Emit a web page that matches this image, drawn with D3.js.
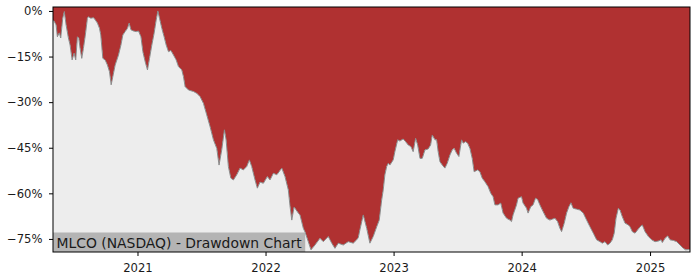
<!DOCTYPE html>
<html>
<head>
<meta charset="utf-8">
<script src="https://cdn.jsdelivr.net/npm/d3@7"></script>
<style>
  html, body { margin: 0; padding: 0; background: #ffffff; }
  svg { display: block; font-family: "DejaVu Sans", sans-serif; }
</style>
</head>
<body>
<svg id="chart" width="700" height="280"></svg>
<script>
// Decimal-year positions of the traced points
const years = [
  2020.342, 2020.350, 2020.366, 2020.376, 2020.391, 2020.402, 2020.418, 2020.430, 2020.444, 2020.462,
  2020.475, 2020.491, 2020.506, 2020.519, 2020.532, 2020.543, 2020.553, 2020.566, 2020.579, 2020.594,
  2020.610, 2020.618, 2020.636, 2020.657, 2020.672, 2020.688, 2020.704, 2020.714, 2020.730, 2020.748,
  2020.766, 2020.782, 2020.795, 2020.808, 2020.826, 2020.852, 2020.871, 2020.886, 2020.904, 2020.922,
  2020.935, 2020.949, 2020.969, 2020.990, 2021.008, 2021.027, 2021.042, 2021.060, 2021.078, 2021.094,
  2021.112, 2021.130, 2021.146, 2021.159, 2021.172, 2021.190, 2021.208, 2021.224, 2021.242, 2021.261,
  2021.281, 2021.302, 2021.320, 2021.346, 2021.359, 2021.372, 2021.398, 2021.437, 2021.463, 2021.489,
  2021.515, 2021.541, 2021.567, 2021.593, 2021.619, 2021.637, 2021.658, 2021.679, 2021.692, 2021.710,
  2021.729, 2021.749, 2021.775, 2021.801, 2021.827, 2021.853, 2021.874, 2021.892, 2021.918, 2021.936,
  2021.957, 2021.983, 2022.014, 2022.035, 2022.061, 2022.088, 2022.127, 2022.152, 2022.178, 2022.191,
  2022.205, 2022.223, 2022.256, 2022.269, 2022.295, 2022.308, 2022.334, 2022.355, 2022.386, 2022.425,
  2022.451, 2022.490, 2022.517, 2022.542, 2022.568, 2022.607, 2022.646, 2022.685, 2022.712, 2022.724,
  2022.737, 2022.763, 2022.790, 2022.815, 2022.841, 2022.868, 2022.888, 2022.907, 2022.919, 2022.932,
  2022.946, 2022.958, 2022.971, 2022.997, 2023.010, 2023.032, 2023.049, 2023.075, 2023.094, 2023.114,
  2023.135, 2023.153, 2023.172, 2023.188, 2023.206, 2023.224, 2023.245, 2023.270, 2023.289, 2023.302,
  2023.323, 2023.336, 2023.348, 2023.362, 2023.380, 2023.401, 2023.419, 2023.440, 2023.458, 2023.473,
  2023.492, 2023.510, 2023.531, 2023.543, 2023.562, 2023.578, 2023.596, 2023.614, 2023.629, 2023.656,
  2023.674, 2023.692, 2023.713, 2023.738, 2023.759, 2023.777, 2023.791, 2023.816, 2023.837, 2023.855,
  2023.882, 2023.908, 2023.921, 2023.933, 2023.960, 2023.972, 2023.999, 2024.011, 2024.038, 2024.050,
  2024.071, 2024.089, 2024.108, 2024.124, 2024.142, 2024.167, 2024.194, 2024.220, 2024.238, 2024.259,
  2024.280, 2024.298, 2024.311, 2024.331, 2024.350, 2024.368, 2024.384, 2024.401, 2024.428, 2024.454,
  2024.480, 2024.506, 2024.532, 2024.558, 2024.584, 2024.610, 2024.628, 2024.649, 2024.670, 2024.688,
  2024.706, 2024.721, 2024.735, 2024.753, 2024.766, 2024.784, 2024.805, 2024.831, 2024.844, 2024.862,
  2024.883, 2024.904, 2024.922, 2024.940, 2024.961, 2024.987, 2025.013, 2025.039, 2025.065, 2025.086,
  2025.096, 2025.117, 2025.138, 2025.156, 2025.182, 2025.208, 2025.234, 2025.260, 2025.278, 2025.299,
  2025.312
];

// Drawdown in percent
const drawdown = [
  -3.0, -3.3, -4.6, -8.5, -7.2, -8.9, -2.4, -0.2, -4.6, -8.9,
  -11.2, -16.1, -13.9, -16.1, -8.5, -9.0, -12.3, -15.6, -12.3, -7.9,
  -2.4, -1.9, -2.4, -2.2, -3.0, -4.0, -5.7, -7.9, -15.6, -16.1,
  -17.8, -20.0, -24.3, -21.6, -17.8, -14.5, -11.2, -7.9, -6.8, -5.7,
  -4.0, -6.2, -6.6, -6.8, -6.6, -8.5, -13.4, -16.7, -19.4, -15.6,
  -11.2, -7.3, -3.0, 0.0, -2.4, -5.7, -8.5, -11.2, -13.4, -13.0,
  -14.5, -16.1, -18.3, -19.4, -21.6, -24.9, -26.0, -26.5, -27.1, -28.2,
  -30.4, -34.2, -38.1, -42.4, -45.2, -50.7, -45.7, -39.1, -42.4, -51.2,
  -55.0, -55.6, -53.9, -51.7, -52.3, -51.2, -49.0, -51.2, -55.6, -58.3,
  -56.3, -56.7, -54.5, -55.6, -53.4, -53.9, -51.7, -54.5, -58.9, -64.1,
  -68.8, -64.5, -66.5, -67.1, -71.5, -72.7, -75.9, -78.6, -77.0, -74.8,
  -75.9, -74.2, -76.4, -78.1, -76.4, -77.0, -75.9, -76.4, -75.3, -74.6,
  -72.0, -67.1, -71.5, -76.4, -74.2, -71.0, -68.8, -62.2, -58.9, -53.9,
  -51.2, -50.1, -50.7, -49.0, -46.3, -42.4, -42.8, -42.1, -43.0, -44.1,
  -44.6, -46.3, -41.9, -44.1, -48.5, -48.5, -45.7, -45.4, -44.1, -40.8,
  -42.4, -42.4, -46.3, -49.6, -50.7, -51.7, -50.1, -47.4, -45.7, -45.2,
  -46.8, -47.9, -42.4, -43.5, -43.0, -43.5, -45.2, -48.5, -52.9, -52.3,
  -52.9, -55.0, -56.2, -57.8, -60.0, -61.1, -63.8, -63.8, -63.2, -66.5,
  -68.2, -68.8, -69.3, -67.1, -63.8, -61.6, -61.1, -63.2, -64.9, -66.5,
  -64.4, -63.8, -61.6, -62.0, -63.8, -66.0, -68.2, -68.8, -68.5, -68.2,
  -69.3, -71.5, -72.6, -69.9, -66.5, -64.4, -63.1, -64.9, -65.2, -65.5,
  -66.5, -68.8, -71.0, -73.1, -75.3, -75.9, -76.4, -75.9, -77.0, -76.4,
  -75.3, -73.1, -68.2, -64.9, -65.5, -67.7, -69.8, -70.4, -71.0, -72.6,
  -73.1, -72.0, -71.0, -70.4, -72.6, -74.2, -75.3, -75.9, -75.7, -75.3,
  -76.2, -74.8, -74.0, -75.3, -75.5, -75.9, -77.0, -78.1, -78.6, -78.5,
  -78.6
];

const yTickValues = [0, -15, -30, -45, -60, -75];
const xTickYears = [2021, 2022, 2023, 2024, 2025];
const labelText = "MLCO (NASDAQ) - Drawdown Chart";

// decimal year -> Date
function fromDecimalYear(v) {
  const yr = Math.floor(v);
  const s = Date.UTC(yr, 0, 1), e = Date.UTC(yr + 1, 0, 1);
  return new Date(s + (v - yr) * (e - s));
}

const data = years.map((v, i) => ({ date: fromDecimalYear(v), dd: drawdown[i] }));

const svg = d3.select("#chart");
const plotL = 53, plotR = 690, plotT = 7, plotB = 252;

const x = d3.scaleUtc()
  .domain([data[0].date, data[data.length - 1].date])
  .range([plotL, plotR]);
const y = d3.scaleLinear()
  .domain([-79.3, 1.3])
  .range([plotB, plotT]);

// red area above curve
svg.append("path")
  .datum(data)
  .attr("fill", "#b03131")
  .attr("d", d3.area().x(d => x(d.date)).y0(plotT).y1(d => y(d.dd)));

// light gray area below curve
svg.append("path")
  .datum(data)
  .attr("fill", "#ededed")
  .attr("d", d3.area().x(d => x(d.date)).y0(plotB).y1(d => y(d.dd)));

// curve
svg.append("path")
  .datum(data)
  .attr("fill", "none")
  .attr("stroke", "#8a8a8a")
  .attr("stroke-width", 1)
  .attr("d", d3.line().x(d => x(d.date)).y(d => y(d.dd)));

// label box
const lbl = svg.append("g");
const lblText = lbl.append("text")
  .attr("x", plotL + 3.5)
  .attr("y", 247.5)
  .attr("font-size", 13.9)
  .attr("fill", "#1a1a1a")
  .text(labelText);
const bb = lblText.node().getBBox();
lbl.insert("rect", "text")
  .attr("x", plotL)
  .attr("y", 232.5)
  .attr("width", bb.x + bb.width + 3 - plotL)
  .attr("height", plotB - 232.5)
  .attr("fill", "#b4b4b4");

// axes
const fmt = d => d === 0 ? "0%" : "\u2212" + Math.abs(d) + "%";
const yAxis = svg.append("g")
  .attr("transform", `translate(${plotL},0)`)
  .call(d3.axisLeft(y).tickValues(yTickValues).tickFormat(fmt).tickSize(4).tickPadding(6.5));
const xAxis = svg.append("g")
  .attr("transform", `translate(0,${plotB})`)
  .call(d3.axisBottom(x)
    .tickValues(xTickYears.map(v => fromDecimalYear(v)))
    .tickFormat(d3.utcFormat("%Y"))
    .tickSize(4).tickPadding(8));

[yAxis, xAxis].forEach(g => {
  g.select(".domain").remove();
  g.selectAll(".tick line").attr("stroke", "#000").attr("stroke-width", 1);
  g.selectAll(".tick text")
    .attr("fill", "#1a1a1a")
    .attr("font-size", 11.6)
    .attr("font-family", "DejaVu Sans, sans-serif");
});

// frame
svg.append("rect")
  .attr("x", plotL)
  .attr("y", plotT)
  .attr("width", plotR - plotL)
  .attr("height", plotB - plotT)
  .attr("fill", "none")
  .attr("stroke", "#000")
  .attr("stroke-width", 1);
</script>
</body>
</html>
